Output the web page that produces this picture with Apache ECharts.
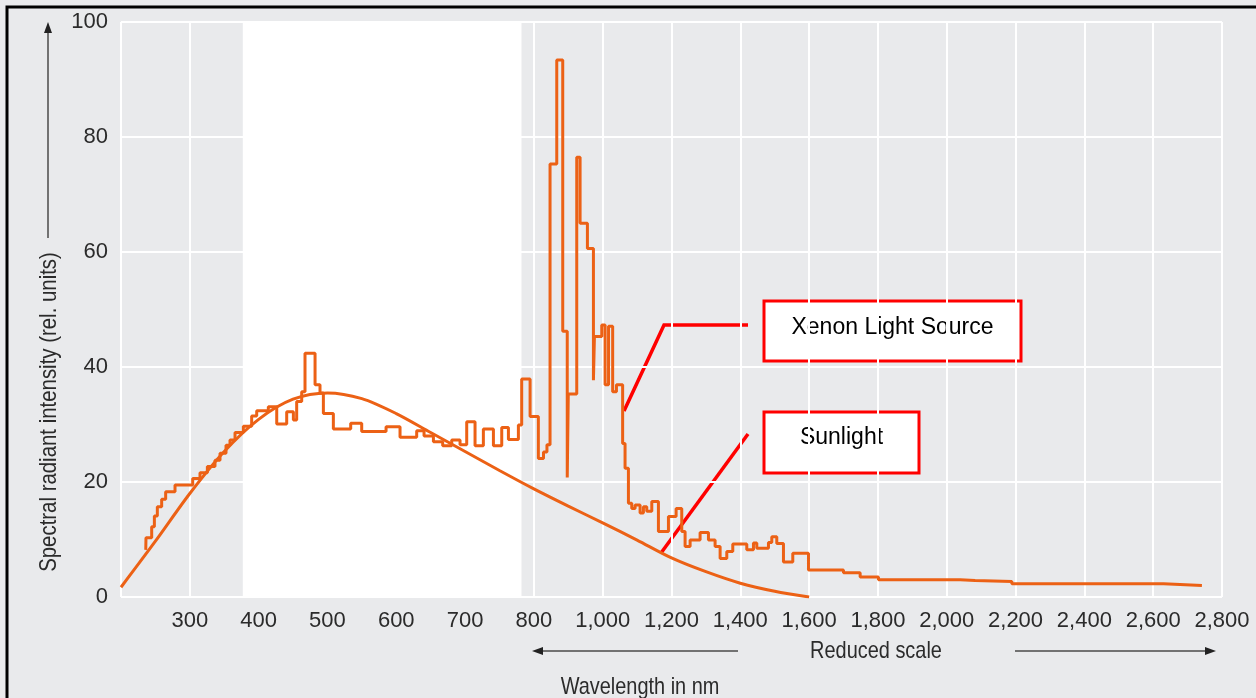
<!DOCTYPE html>
<html>
<head>
<meta charset="utf-8">
<title>Xenon light source vs sunlight</title>
<script src="https://cdn.jsdelivr.net/npm/echarts@6/dist/echarts.min.js"></script>
<style>
  html, body { margin: 0; padding: 0; background: #e9eaec; }
  #chart { width: 1256px; height: 698px; }
</style>
</head>
<body>
<div id="chart"></div>
<script>
// wavelengths in nm, intensity in rel. units
// above 800 nm the axis runs at half scale ("reduced scale")
const sunlightWl = [200, 250, 300, 350, 400, 450, 500, 550, 600, 650, 700, 750, 800,
  900, 1000, 1100, 1200, 1300, 1400, 1500, 1600];
const sunlightVal = [1.7, 9.7, 18.0, 25.3, 30.9, 34.4, 35.5, 34.5, 31.9, 28.6, 25.3, 22.0, 18.8,
  15.8, 12.9, 9.9, 6.8, 4.4, 2.4, 1.0, 0];

// xenon spectrum as steps: each edge wavelength with the level that follows it
const xenonWl = [236, 236.3, 244.6, 248.5, 252.8, 259.1, 264.9, 278.5, 304.2, 314.8, 325.5, 336.6, 343.9,
  352.6, 358.4, 365.7, 377.8, 389.9, 397.2, 414.1, 426.3, 440.8, 450.5, 455.3, 462.6, 467.4, 482, 489.2,
  494.1, 508.6, 533.8, 549.8, 585.2, 605.5, 629.7, 640.4, 654, 667.5, 680.6, 692.7, 702.4, 714.5, 726.6,
  741.2, 753.3, 763, 777.5, 782.3, 794.5, 813, 828, 838, 847, 866.5, 883.9, 897, 900, 924.6, 934.3,
  955.6, 973.1, 976, 997.3, 1007, 1017, 1029, 1040, 1058, 1065, 1074.8, 1084.5, 1094.2, 1108.7, 1118.4,
  1128.1, 1142.7, 1162, 1191.1, 1213.4, 1229.8, 1239.5, 1254.1, 1283.1, 1307.4, 1326.7, 1341.3, 1360.7,
  1378.1, 1418.8, 1438.2, 1447.9, 1481.8, 1491.5, 1506, 1525.4, 1552.5, 1598.1, 1699.8, 1748.3, 1801.5,
  2038.9, 2082.5, 2189.2, 2630.1, 2741.6];
const xenonVal = [8.2, 10.3, 12.2, 14.1, 15.7, 17.0, 18.3, 19.5, 20.6, 21.6, 22.7, 23.8, 25.0,
  26.4, 27.3, 28.6, 29.7, 31.5, 32.4, 33.1, 30.1, 32.2, 30.8, 34.0, 35.7, 42.4, 36.9, 35.5,
  31.9, 29.2, 30.2, 28.8, 29.6, 27.8, 28.9, 28.0, 27.0, 26.3, 27.3, 26.5, 30.5, 26.3, 29.2,
  26.3, 29.5, 27.4, 29.9, 37.9, 31.4, 24.1, 25.2, 26.5, 75.3, 93.4, 46.2, 20.8, 35.3, 76.5, 65.0,
  60.6, 37.7, 45.3, 47.3, 36.9, 47.1, 35.7, 36.9, 26.7, 22.4, 16.3, 15.4, 16.0, 14.6, 15.7,
  14.9, 16.6, 11.4, 14.0, 15.4, 11.4, 8.8, 9.9, 11.2, 9.9, 8.8, 6.7, 7.9,
  9.2, 8.2, 9.4, 8.5, 9.5, 10.5, 9.3, 6.1, 7.6, 4.7, 4.2, 3.5, 3.0,
  2.85, 2.7, 2.3, 2.0, 2.0];

const wavelengthTicks = [300, 400, 500, 600, 700, 800, 1000, 1200, 1400, 1600, 1800, 2000, 2200, 2400, 2600, 2800];
const intensityTicks = [0, 20, 40, 60, 80, 100];
const visibleRegion = [377, 782];

const BREAK = 800;
const toAxis = (wl) => (wl <= BREAK ? wl : BREAK + (wl - BREAK) / 2);

const sans = '"Liberation Sans", Arial, Helvetica, sans-serif';
const orange = '#ec6115';
const textGrey = '#2b2b2b';

const chart = echarts.init(document.getElementById('chart'));

// thin line with a filled head at (x2, y2)
function arrow(x1, y1, x2, y2) {
  const ang = Math.atan2(y2 - y1, x2 - x1);
  const len = 11, half = 4;
  const bx = x2 - len * Math.cos(ang), by = y2 - len * Math.sin(ang);
  const nx = -Math.sin(ang) * half, ny = Math.cos(ang) * half;
  return [
    { type: 'line', silent: true, shape: { x1, y1, x2: bx, y2: by }, style: { stroke: '#4a4a4a', lineWidth: 1.5 } },
    { type: 'polygon', silent: true, shape: { points: [[x2, y2], [bx + nx, by + ny], [bx - nx, by - ny]] }, style: { fill: '#222' } }
  ];
}

// condensed-looking label (the original uses a narrow grotesque)
function label(text, x, y, extra) {
  return Object.assign({
    type: 'text', silent: true, x, y, scaleX: 0.83,
    style: { text, fill: textGrey, font: '24px ' + sans, align: 'center', verticalAlign: 'middle' }
  }, extra || {});
}

function callout(text, x, y, w, h, ty) {
  return [
    { type: 'rect', silent: true, shape: { x, y, width: w, height: h }, style: { fill: '#fff', stroke: '#ff0000', lineWidth: 3 } },
    { type: 'text', silent: true, x: x + w / 2, y: ty,
      style: { text, fill: '#000', font: '23px ' + sans, align: 'center', verticalAlign: 'middle' } }
  ];
}

const redLine = { stroke: '#ff0000', lineWidth: 3.5 };

const graphics = [
  { type: 'rect', silent: true, shape: { x: 7, y: 7, width: 1300, height: 800 }, style: { fill: null, stroke: '#000', lineWidth: 3 } },
  ...arrow(48, 238, 48, 22),
  label('Spectral radiant intensity (rel. units)', 49, 412, { rotation: Math.PI / 2, scaleX: 0.85 }),
  ...arrow(306, 271, 248, 271),
  label('Visible region', 377, 271),
  ...arrow(444, 271, 512, 271),
  ...arrow(738, 651, 532, 651),
  label('Reduced scale', 876, 651),
  ...arrow(1015, 651, 1216, 651),
  label('Wavelength in nm', 640, 687),
  { type: 'polyline', silent: true, shape: { points: [[748, 325], [664, 325], [624, 411]] }, style: redLine },
  { type: 'line', silent: true, shape: { x1: 748, y1: 434, x2: 661, y2: 553 }, style: redLine },
  ...callout('Xenon Light Source', 764, 301, 257, 60, 328),
  ...callout('Sunlight', 764, 412, 155, 61, 438)
];

const option = {
  animation: false,
  backgroundColor: '#e9eaec',
  grid: { left: 121, right: 34, top: 22, bottom: 101, show: true, backgroundColor: '#e9eaec', borderWidth: 0 },
  xAxis: {
    type: 'value',
    min: 200,
    max: toAxis(2800),
    interval: 100,
    axisLine: { show: false },
    axisTick: { show: false },
    splitLine: { lineStyle: { color: '#fff', width: 2 } },
    axisLabel: {
      margin: 13,
      color: textGrey,
      fontSize: 22,
      fontFamily: sans,
      formatter: (v) => {
        const wl = wavelengthTicks.find((t) => Math.abs(toAxis(t) - v) < 0.01);
        return wl ? wl.toLocaleString('en-US') : '';
      }
    }
  },
  yAxis: {
    type: 'value',
    min: intensityTicks[0],
    max: intensityTicks[intensityTicks.length - 1],
    interval: 20,
    axisLine: { show: false },
    axisTick: { show: false },
    splitLine: { lineStyle: { color: '#fff', width: 2 } },
    axisLabel: { margin: 13, color: textGrey, fontSize: 22, fontFamily: sans }
  },
  series: [
    {
      name: 'Sunlight',
      type: 'line',
      smooth: 0.3,
      symbol: 'none',
      lineStyle: { color: orange, width: 3 },
      data: sunlightWl.map((w, i) => [toAxis(w), sunlightVal[i]]),
      markArea: {
        silent: true,
        itemStyle: { color: '#ffffff', opacity: 1 },
        data: [[{ xAxis: toAxis(visibleRegion[0]) }, { xAxis: toAxis(visibleRegion[1]) }]]
      },
      z: 2
    },
    {
      name: 'Xenon Light Source',
      type: 'line',
      step: 'end',
      symbol: 'none',
      lineStyle: { color: orange, width: 3 },
      data: xenonWl.map((w, i) => [toAxis(w), xenonVal[i]]),
      z: 3
    }
  ],
  graphic: graphics
};

chart.setOption(option);
</script>
</body>
</html>
